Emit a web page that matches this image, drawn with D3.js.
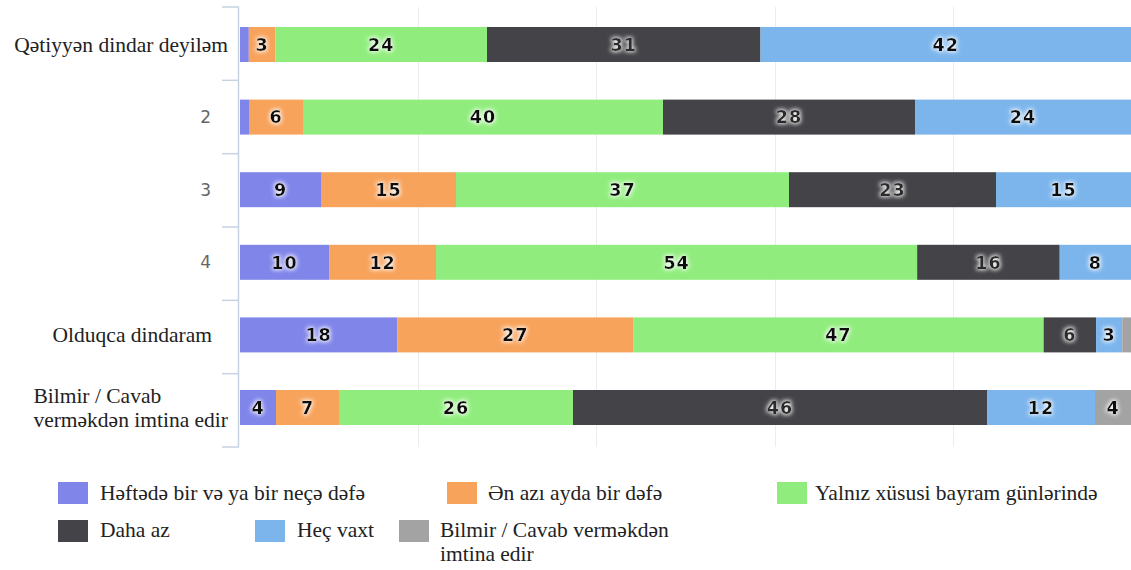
<!DOCTYPE html>
<html>
<head>
<meta charset="utf-8">
<script src="https://cdn.jsdelivr.net/npm/d3@7"></script>
<style>
  html, body { margin: 0; padding: 0; background: #fff; }
  svg { display: block; }
</style>
</head>
<body>
<svg id="chart" width="1131" height="570"></svg>
<script>
// ---- data ----
const categories = [
  ["Qətiyyən dindar deyiləm"],
  ["2"],
  ["3"],
  ["4"],
  ["Olduqca dindaram"],
  ["Bilmir / Cavab", "verməkdən imtina edir"]
];
const seriesNames = [
  "Həftədə bir və ya bir neçə dəfə",
  "Ən azı ayda bir dəfə",
  "Yalnız xüsusi bayram günlərində",
  "Daha az",
  "Heç vaxt",
  "Bilmir / Cavab verməkdən imtina edir"
];
const weekly   = [1, 1, 9, 10, 18, 4];
const monthly  = [3, 6, 15, 12, 27, 7];
const holidays = [24, 40, 37, 54, 47, 26];
const less     = [31, 28, 23, 16, 6, 46];
const never    = [42, 24, 15, 8, 3, 12];
const dontKnow = [0, 0, 0, 0, 1, 4];
const xTicks = [0, 20, 40, 60, 80, 100];

const seriesValues = [weekly, monthly, holidays, less, never, dontKnow];
const colors = ["#8085e9", "#f7a35c", "#90ed7d", "#434348", "#7cb5ec", "#a3a3a3"];

// ---- layout ----
const svg = d3.select("#chart");
const plot = { left: 240, right: 1131, top: 7, bottom: 447 };
const serif = "'Liberation Serif', 'Times New Roman', serif";
const sans = "'DejaVu Sans', Verdana, sans-serif";

const x = d3.scaleLinear().domain([0, 100]).range([plot.left, plot.right]);
const yAxisScale = d3.scaleBand().domain(d3.range(categories.length)).range([plot.top, plot.bottom]).padding(0);
const yBar = d3.scaleBand().domain(d3.range(categories.length)).range([8.2, 443.8]).padding(0);
const barH = yBar.step() * 0.482;

// percent-stacked rows
const rows = categories.map((c, i) => {
  const vals = seriesValues.map(s => s[i]);
  const total = d3.sum(vals);
  let acc = 0;
  return vals.map((v, k) => {
    const p0 = acc / total * 100; acc += v;
    const p1 = acc / total * 100;
    return { row: i, series: k, value: v, p0, p1 };
  });
});

// defs: glow filter for labels
const defs = svg.append("defs");
const f = defs.append("filter").attr("id", "glow").attr("x", "-30%").attr("y", "-40%").attr("width", "160%").attr("height", "180%");
f.append("feMorphology").attr("in", "SourceAlpha").attr("operator", "dilate").attr("radius", 1).attr("result", "dil");
f.append("feGaussianBlur").attr("in", "dil").attr("stdDeviation", 2.2).attr("result", "blur");
f.append("feFlood").attr("flood-color", "#ffffff").attr("flood-opacity", 0.9).attr("result", "white");
f.append("feComposite").attr("in", "white").attr("in2", "blur").attr("operator", "in").attr("result", "halo");
const m = f.append("feMerge");
m.append("feMergeNode").attr("in", "halo");
m.append("feMergeNode").attr("in", "SourceGraphic");

// gridlines
svg.append("g").selectAll("line").data(xTicks.slice(1, -1)).join("line")
  .attr("x1", d => Math.round(x(d)) + 0.5).attr("x2", d => Math.round(x(d)) + 0.5)
  .attr("y1", plot.top).attr("y2", plot.bottom)
  .attr("stroke", "#ececec").attr("stroke-width", 1);

// bars
const gBars = svg.append("g");
rows.forEach(r => {
  gBars.selectAll(null).data(r.filter(d => d.value > 0)).join("rect")
    .attr("x", d => x(d.p0))
    .attr("width", d => x(d.p1) - x(d.p0))
    .attr("y", d => yBar(d.row) + yBar.step() / 2 - barH / 2)
    .attr("height", barH)
    .attr("fill", d => colors[d.series]);
});

// data labels
const gLab = svg.append("g");
rows.forEach(r => {
  gLab.selectAll(null).data(r.filter(d => d.value >= 2)).join("text")
    .attr("x", d => (x(d.p0) + x(d.p1)) / 2)
    .attr("y", d => yBar(d.row) + yBar.step() / 2)
    .attr("dy", "0.36em")
    .attr("text-anchor", "middle")
    .attr("font-family", sans)
    .attr("font-weight", "bold")
    .attr("font-size", 17.5)
    .attr("letter-spacing", 1)
    .attr("fill", d => d.series === 3 ? "#2a2a2a" : "#111")
    .attr("filter", "url(#glow)")
    .text(d => d.value);
});

// y axis line + ticks
const axisColor = "#c6d3e3";
svg.append("line")
  .attr("x1", 238.5).attr("x2", 238.5).attr("y1", plot.top).attr("y2", plot.bottom)
  .attr("stroke", axisColor).attr("stroke-width", 1.5);
const tickPos = d3.range(categories.length).map(i => yAxisScale(i)).concat([plot.bottom]);
svg.append("g").selectAll("line").data(tickPos).join("line")
  .attr("x1", 222).attr("x2", 239)
  .attr("y1", d => d).attr("y2", d => d)
  .attr("stroke", axisColor).attr("stroke-width", 1.5);

// category labels
const catSize = 21.5;
const gCat = svg.append("g");
categories.forEach((c, i) => {
  const cy = yBar(i) + yBar.step() / 2;
  const numeric = /^\d+$/.test(c[0]);
  if (numeric) {
    gCat.append("text").attr("x", 211).attr("y", cy).attr("dy", "0.36em")
      .attr("text-anchor", "end").attr("font-family", sans)
      .attr("font-size", 17).attr("fill", "#666").text(c[0]);
  } else if (c.length === 1) {
    const isFirst = i === 0;
    gCat.append("text").attr("x", isFirst ? 228 : 212).attr("y", cy).attr("dy", "0.33em")
      .attr("text-anchor", "end").attr("font-family", serif)
      .attr("font-size", catSize).attr("fill", "#222").text(c[0]);
  } else {
    const t2 = gCat.append("text").attr("x", 228).attr("y", cy + 12).attr("dy", "0.33em")
      .attr("text-anchor", "end").attr("font-family", serif)
      .attr("font-size", catSize).attr("fill", "#222").text(c[1]);
    const w = t2.node().getComputedTextLength();
    gCat.append("text").attr("x", 228 - w).attr("y", cy - 12).attr("dy", "0.33em")
      .attr("text-anchor", "start").attr("font-family", serif)
      .attr("font-size", catSize).attr("fill", "#222").text(c[0]);
  }
});

// legend
const legendLayout = [
  { sx: 58,  sy: 482, tx: 100, ty: 500, lines: ["Həftədə bir və ya bir neçə dəfə"] },
  { sx: 447, sy: 482, tx: 488, ty: 500, lines: ["Ən azı ayda bir dəfə"] },
  { sx: 777, sy: 482, tx: 815, ty: 500, lines: ["Yalnız xüsusi bayram günlərində"] },
  { sx: 58,  sy: 520, tx: 100, ty: 537, lines: ["Daha az"] },
  { sx: 255, sy: 520, tx: 297, ty: 537, lines: ["Heç vaxt"] },
  { sx: 399, sy: 520, tx: 440, ty: 537, lines: ["Bilmir / Cavab verməkdən", "imtina edir"] }
];
const gLeg = svg.append("g");
seriesNames.forEach((name, k) => {
  const L = legendLayout[k];
  gLeg.append("rect").attr("x", L.sx).attr("y", L.sy).attr("width", 30).attr("height", 22).attr("fill", colors[k]);
  L.lines.forEach((ln, j) => {
    gLeg.append("text").attr("font-family", serif)
      .attr("font-size", 21.5).attr("fill", "#222")
      .attr("x", L.tx).attr("y", L.ty + j * 24).text(ln);
  });
});
</script>
</body>
</html>
